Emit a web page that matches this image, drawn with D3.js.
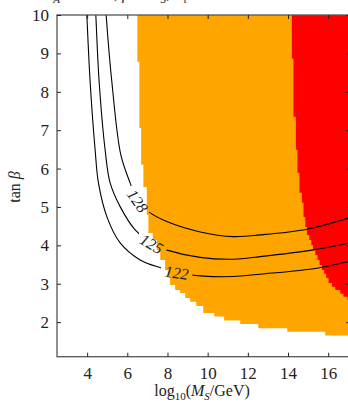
<!DOCTYPE html>
<html>
<head>
<meta charset="utf-8">
<script src="https://cdn.jsdelivr.net/npm/d3@7"></script>
<style>
  body { margin: 0; background: #fff; }
  svg { display: block; }
  text { font-family: "Liberation Serif", "DejaVu Serif", serif; fill: #222; }
</style>
</head>
<body>
<svg id="chart" width="348" height="405"></svg>
<script>
// Axis ticks
const xTicks = [4, 6, 8, 10, 12, 14, 16];
const yTicks = [2, 3, 4, 5, 6, 7, 8, 9, 10];

// Orange region: column start (log10 MS/GeV) and lowest tan(beta) in that column
const orangeX   = [6.50, 6.60, 6.69, 6.80, 6.97, 7.05, 7.27, 7.47, 7.64, 7.88, 8.05, 8.13,
                   8.38, 8.63, 8.88, 9.13, 9.43, 9.78, 10.33, 10.82, 11.62, 12.52, 13.96, 15.85];
const orangeLow = [8.78, 7.06, 6.10, 5.52, 4.79, 4.32, 4.14, 3.88, 3.62, 3.36, 3.15, 2.97,
                   2.84, 2.76, 2.63, 2.53, 2.42, 2.24, 2.15, 2.04, 1.95, 1.84, 1.75, 1.65];

// Red region: column start and lowest tan(beta)
const redX   = [14.19, 14.27, 14.39, 14.47, 14.57, 14.69, 14.77, 14.86, 14.94, 15.06, 15.16, 15.24,
                15.36, 15.47, 15.57, 15.69, 15.80, 15.90, 16.02, 16.19, 16.35, 16.60, 16.76, 16.96];
const redLow = [8.87, 7.35, 6.49, 5.89, 5.37, 5.11, 4.74, 4.48, 4.27, 4.14, 4.01, 3.88,
                3.75, 3.62, 3.49, 3.36, 3.26, 3.15, 3.02, 2.92, 2.84, 2.74, 2.66, 2.58];

// Higgs-mass contours (GeV): [log10 MS, tan(beta)]
const contour122 = [[3.95, 10.4], [3.985, 10.0], [4.149, 8.263], [4.398, 6.485], [4.563, 5.626],
                    [4.981, 4.749], [5.643, 4.064], [6.639, 3.621], [7.720, 3.405], [8.455, 3.288],
                    [9.214, 3.231], [9.627, 3.205], [11.271, 3.187], [12.615, 3.249],
                    [15.439, 3.405], [16.984, 3.577], [17.5, 3.65]];
const contour125 = [[4.40, 10.4], [4.433, 10.0], [4.598, 8.263], [4.896, 6.485], [5.145, 5.626],
                    [5.643, 5.009], [6.390, 4.402], [7.21, 4.04], [7.934, 3.882], [9.627, 3.687],
                    [11.271, 3.640], [12.615, 3.707], [15.255, 3.882], [16.984, 4.056], [17.5, 4.13]];
const contour128 = [[4.90, 10.4], [4.946, 10.0], [5.230, 8.260], [5.678, 6.355], [6.141, 5.626],
                    [6.514, 5.156], [7.053, 4.879], [7.969, 4.619], [9.627, 4.350], [11.271, 4.228],
                    [12.615, 4.272], [14.941, 4.421], [16.984, 4.707], [17.5, 4.80]];

// Inline contour labels: level, anchor [log10 MS, tan(beta)], text angle (deg)
const contourLevels = [122, 125, 128];
const labelAnchors  = [[8.455, 3.288], [7.21, 4.04], [6.514, 5.156]];
const labelAngles   = [8, 30, 55];

const svg = d3.select("#chart");
const x = d3.scaleLinear().domain([2.5, 17.1]).range([57, 350.3]);
const y = d3.scaleLinear().domain([1.1, 10]).range([356.7, 15]);
const [x0, x1] = x.range(), [y0, y1] = [y(1.1), y(10)];

const defs = svg.append("defs");
defs.append("clipPath").attr("id", "plotClip")
  .append("rect").attr("x", x0).attr("y", y1).attr("width", x1 - x0).attr("height", y0 - y1);

// Filled regions
function stepArea(xs, lows) {
  const pts = xs.map((v, i) => [v, lows[i]]);
  pts.push([x.domain()[1] + 1, lows[lows.length - 1]]);
  return d3.area()
    .x(d => x(d[0]))
    .y0(d => y(d[1]))
    .y1(y(10))
    .curve(d3.curveStepAfter)(pts);
}
const regions = svg.append("g").attr("clip-path", "url(#plotClip)");
regions.append("path").attr("d", stepArea(orangeX, orangeLow)).attr("fill", "#FFA500");
regions.append("path").attr("d", stepArea(redX, redLow)).attr("fill", "#FF0000");

// Mask cutting gaps in the contours behind their labels
const mask = defs.append("mask").attr("id", "labelGaps");
mask.append("rect").attr("x", 0).attr("y", 0).attr("width", 348).attr("height", 405).attr("fill", "#fff");
labelAnchors.forEach((a, i) => {
  mask.append("rect")
    .attr("x", -16).attr("y", -7).attr("width", 32).attr("height", 14)
    .attr("fill", "#000")
    .attr("transform", `translate(${x(a[0])},${y(a[1])}) rotate(${labelAngles[i]})`);
});

const line = d3.line().x(d => x(d[0])).y(d => y(d[1])).curve(d3.curveCatmullRom.alpha(0.5));
const lines = svg.append("g").attr("clip-path", "url(#plotClip)")
  .append("g").attr("mask", "url(#labelGaps)");
[contour122, contour125, contour128].forEach(c => {
  lines.append("path").attr("d", line(c))
    .attr("fill", "none").attr("stroke", "#000").attr("stroke-width", 1.1);
});

labelAnchors.forEach((a, i) => {
  svg.append("text")
    .attr("transform", `translate(${x(a[0])},${y(a[1])}) rotate(${labelAngles[i]})`)
    .attr("text-anchor", "middle").attr("dy", "0.35em")
    .style("font-size", "16px").style("font-style", "italic")
    .text(contourLevels[i]);
});

// Frame and axes (ticks pointing inward)
const frame = svg.append("g");
frame.append("rect").attr("x", x0).attr("y", y1).attr("width", x1 - x0).attr("height", y0 - y1)
  .attr("fill", "none").attr("stroke", "#555").attr("stroke-width", 1.3);

const axisStyle = g => {
  g.select(".domain").remove();
  g.selectAll(".tick line").attr("stroke", "#222").attr("stroke-width", 1);
  g.selectAll(".tick text").style("font-size", "17px").attr("fill", "#222")
    .style("font-family", "'Liberation Serif', serif");
};
svg.append("g").attr("transform", `translate(0,${y0})`)
  .call(d3.axisBottom(x).tickValues(xTicks).tickSize(-4).tickPadding(10).tickFormat(d3.format("d")))
  .call(axisStyle);
svg.append("g").attr("transform", `translate(0,${y1})`)
  .call(d3.axisTop(x).tickValues(xTicks).tickSize(-4).tickFormat(""))
  .call(axisStyle);
svg.append("g").attr("transform", `translate(${x0},0)`)
  .call(d3.axisLeft(y).tickValues(yTicks).tickSize(-4).tickPadding(8).tickFormat(d3.format("d")))
  .call(axisStyle);
svg.append("g").attr("transform", `translate(${x1},0)`)
  .call(d3.axisRight(y).tickValues(yTicks).tickSize(-4).tickFormat(""))
  .call(axisStyle);

// Axis titles
const xl = svg.append("text").attr("x", 202).attr("y", 396).attr("text-anchor", "middle")
  .style("font-size", "16px");
xl.append("tspan").text("log");
xl.append("tspan").attr("dy", 4).style("font-size", "11px").text("10");
xl.append("tspan").attr("dy", -4).text("(");
xl.append("tspan").style("font-style", "italic").text("M");
xl.append("tspan").attr("dy", 4).style("font-size", "11px").style("font-style", "italic").text("S");
xl.append("tspan").attr("dy", -4).text("/GeV)");

const yl = svg.append("text").attr("transform", "translate(20,187) rotate(-90)")
  .attr("text-anchor", "middle").style("font-size", "16px");
yl.append("tspan").text("tan ");
yl.append("tspan").style("font-style", "italic").text("β");

// Plot title (runs off the top edge)
const tl = svg.append("text").attr("x", 40).attr("y", -1).style("font-size", "16px");
tl.append("tspan").style("font-style", "italic").text("M");
tl.append("tspan").attr("dy", 4).style("font-size", "11px").style("font-style", "italic").text("A");
tl.append("tspan").attr("dy", -4).text(" = 1 TeV, ");
tl.append("tspan").style("font-style", "italic").text("μ");
tl.append("tspan").text(" = ");
tl.append("tspan").style("font-style", "italic").text("M");
tl.append("tspan").attr("dy", 4).style("font-size", "11px").style("font-style", "italic").text("S");
tl.append("tspan").attr("dy", -4).text(", ");
tl.append("tspan").style("font-style", "italic").text("X");
tl.append("tspan").attr("dy", 4).style("font-size", "11px").style("font-style", "italic").text("t");
tl.append("tspan").attr("dy", -4).text(" = 0");
</script>
</body>
</html>
